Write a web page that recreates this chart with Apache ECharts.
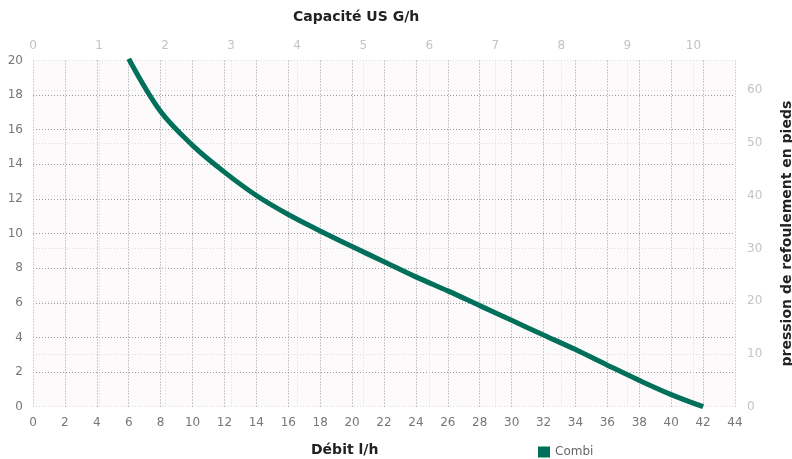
<!DOCTYPE html>
<html>
<head>
<meta charset="utf-8">
<script src="https://cdn.jsdelivr.net/npm/echarts@6/dist/echarts.min.js"></script>
<style>
  html, body { margin: 0; padding: 0; background: #ffffff; }
  #chart { width: 792px; height: 459px; }
</style>
</head>
<body>
<div id="chart"></div>
<script>
// Pump curve: discharge head (m) against flow rate (l/h)
const flowLh = [6, 8, 10, 12, 14, 16, 18, 20, 22, 24, 26, 28, 30, 32, 34, 36, 38, 40, 42];
const headM  = [20.1, 17.05, 15.1, 13.55, 12.2, 11.1, 10.15, 9.25, 8.38, 7.5, 6.69, 5.84, 4.99, 4.14, 3.3, 2.4, 1.52, 0.7, 0];

const seriesName = 'Combi';
const flowMax = 44;        // l/h
const gallonMax = 10.63;   // US G/h at the same right edge
const headMax = 20;        // m
const feetMax = 65.62;     // head in feet

const fontFamily = '"DejaVu Sans", sans-serif';
const green = '#00705a';

const chart = echarts.init(document.getElementById('chart'), null, { renderer: 'canvas' });

chart.setOption({
  backgroundColor: '#ffffff',
  animation: false,
  title: [
    { text: 'Capacité US G/h', left: 288, top: 5,
      textStyle: { fontFamily: fontFamily, fontSize: 14, fontWeight: 'bold', color: '#222' } },
    { text: 'Débit l/h', left: 306, top: 438,
      textStyle: { fontFamily: fontFamily, fontSize: 14, fontWeight: 'bold', color: '#222' } }
  ],
  legend: {
    data: [seriesName],
    left: 533, top: 441,
    icon: 'rect', itemWidth: 12, itemHeight: 11, itemGap: 6,
    textStyle: { fontFamily: fontFamily, fontSize: 12, color: '#666' }
  },
  grid: {
    left: 33, right: 57, top: 60.5, bottom: 52.3,
    outerBoundsMode: 'none',
    containLabel: false,
    show: true, backgroundColor: '#fcfafb', borderWidth: 0
  },
  xAxis: [
    {
      type: 'value', position: 'bottom', min: 0, max: flowMax, interval: 2,
      axisLine: { show: false }, axisTick: { show: false },
      axisLabel: { margin: 10, fontFamily: fontFamily, fontSize: 12, color: '#777' },
      splitLine: { show: true, lineStyle: { color: '#9a9a9a', type: [1, 2], width: 1 } }
    },
    {
      type: 'value', position: 'top', min: 0, max: gallonMax, interval: 1,
      axisLine: { show: false }, axisTick: { show: false },
      axisLabel: { margin: 9, fontFamily: fontFamily, fontSize: 12, color: '#c4c4c4',
        formatter: v => (v > 10.5 ? '' : v) },
      splitLine: { show: true, lineStyle: { color: '#dcdcdc', type: [1, 2], width: 1 } }
    }
  ],
  yAxis: [
    {
      type: 'value', position: 'left', min: 0, max: headMax, interval: 2,
      axisLine: { show: false }, axisTick: { show: false },
      axisLabel: { margin: 10, fontFamily: fontFamily, fontSize: 12, color: '#777' },
      splitLine: { show: true, lineStyle: { color: '#9a9a9a', type: [1, 2], width: 1 } }
    },
    {
      type: 'value', position: 'right', min: 0, max: feetMax, interval: 10,
      name: 'pression de refoulement en pieds', nameLocation: 'middle', nameGap: 45, nameRotate: 90,
      nameTextStyle: { fontFamily: fontFamily, fontSize: 14, fontWeight: 'bold', color: '#222' },
      axisLine: { show: false }, axisTick: { show: false },
      axisLabel: { margin: 12, fontFamily: fontFamily, fontSize: 12, color: '#c4c4c4',
        formatter: v => (v > 65 ? '' : v) },
      splitLine: { show: true, lineStyle: { color: '#dcdcdc', type: [1, 2], width: 1 } }
    }
  ],
  series: [
    {
      name: seriesName,
      type: 'line',
      xAxisIndex: 0, yAxisIndex: 0,
      data: flowLh.map((x, i) => [x, headM[i]]),
      smooth: 0.35,
      clip: true,
      showSymbol: false,
      symbol: 'none',
      itemStyle: { color: green },
      lineStyle: { color: green, width: 5 },
      z: 5
    }
  ]
});
</script>
</body>
</html>
